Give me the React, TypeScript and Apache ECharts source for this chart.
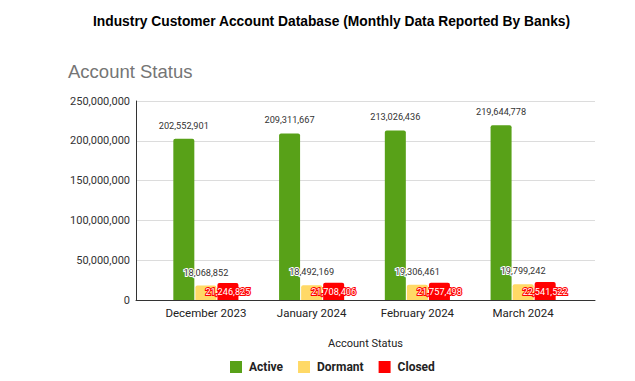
import React, { useEffect, useRef } from "react";
import * as echarts from "echarts";

const categories = ["December 2023", "January 2024", "February 2024", "March 2024"];
const activeValues = [202552901, 209311667, 213026436, 219644778];
const dormantValues = [18068852, 18492169, 19306461, 19799242];
const closedValues = [21246825, 21708406, 21757498, 22541522];
const yTicks = { min: 0, max: 250000000, interval: 50000000 };

const fmt = (v: number) => Number(v).toLocaleString("en-US");

export default function App() {
  const ref = useRef<HTMLDivElement>(null);
  useEffect(() => {
    if (!ref.current) return;
    const chart = echarts.init(ref.current, null, { renderer: "svg" });
    const font = "Roboto, Arial, sans-serif";
    const arial = "'Liberation Sans', Arial, sans-serif";
    chart.setOption({
      animation: false,
      backgroundColor: "#ffffff",
      textStyle: { fontFamily: font },
      title: [
        {
          text: "Industry Customer Account Database (Monthly Data Reported By Banks)",
          left: 88,
          top: 9,
          textStyle: { fontFamily: arial, fontSize: 13.8, fontWeight: "bold", color: "#000" },
        },
        {
          text: "Account Status",
          left: 63,
          top: 57,
          textStyle: { fontFamily: arial, fontSize: 18.5, fontWeight: "normal", color: "#757575" },
        },
      ],
      legend: {
        left: 225,
        top: 356,
        icon: "rect",
        itemWidth: 12,
        itemHeight: 12,
        itemGap: 15,
        textStyle: { fontFamily: font, fontSize: 12, fontWeight: "bold", color: "#222", padding: [0, 0, 0, 2] },
        data: ["Active", "Dormant", "Closed"],
      },
      grid: [
        { left: 136, right: 40, top: 101, bottom: 81 },
        { left: 153, right: 59, top: 101, bottom: 81 },
      ],
      xAxis: [
        {
          gridIndex: 0,
          type: "category",
          data: [""],
          axisLine: { show: true, lineStyle: { color: "#333", width: 1 } },
          axisTick: { show: false },
          axisLabel: { show: false },
          name: "Account Status",
          nameLocation: "middle",
          nameGap: 38,
          nameTextStyle: { fontFamily: font, fontSize: 11, color: "#222" },
        },
        {
          gridIndex: 1,
          type: "category",
          data: categories,
          axisLine: { show: false },
          axisTick: { show: false },
          axisLabel: { fontFamily: font, fontSize: 11.5, color: "#222", margin: 7 },
        },
      ],
      yAxis: [
        {
          gridIndex: 0,
          type: "value",
          min: yTicks.min,
          max: yTicks.max,
          interval: yTicks.interval,
          axisLine: { show: true, lineStyle: { color: "#333", width: 1 } },
          axisTick: { show: false },
          axisLabel: { fontFamily: font, fontSize: 11, color: "#333", margin: 6, formatter: (v: number) => fmt(v) },
          splitLine: { show: true, lineStyle: { color: "#dcdcdc" } },
        },
        {
          gridIndex: 1,
          type: "value",
          min: yTicks.min,
          max: yTicks.max,
          interval: yTicks.interval,
          show: false,
          splitLine: { show: false },
        },
      ],
      series: [
        {
          name: "Active",
          type: "bar",
          xAxisIndex: 1,
          yAxisIndex: 1,
          data: activeValues,
          barWidth: 21,
          barGap: "5%",
          itemStyle: { color: "#58a118", borderRadius: [2, 2, 0, 0] },
          label: {
            show: true,
            position: "top",
            distance: 9,
            fontFamily: font,
            fontSize: 9.2,
            color: "#333",
            formatter: (p: any) => fmt(p.value),
          },
        },
        {
          name: "Dormant",
          type: "bar",
          xAxisIndex: 1,
          yAxisIndex: 1,
          data: dormantValues,
          barWidth: 21,
          barGap: "5%",
          itemStyle: { color: "#ffd966", borderRadius: [2, 2, 0, 0] },
          label: {
            show: true,
            position: "top",
            distance: 9,
            fontFamily: font,
            fontSize: 9.2,
            color: "#333",
            textBorderColor: "#fff",
            textBorderWidth: 2,
            formatter: (p: any) => fmt(p.value),
          },
        },
        {
          name: "Closed",
          type: "bar",
          xAxisIndex: 1,
          yAxisIndex: 1,
          data: closedValues,
          barWidth: 21,
          barGap: "5%",
          itemStyle: { color: "#ff0000", borderRadius: [2, 2, 0, 0] },
          label: {
            show: true,
            position: "inside",
            fontFamily: font,
            fontSize: 9.2,
            color: "#fff",
            textBorderColor: "#ff0000",
            textBorderWidth: 2,
            formatter: (p: any) => fmt(p.value),
          },
        },
      ],
    });
    return () => chart.dispose();
  }, []);
  return <div ref={ref} style={{ width: 635, height: 381, position: "fixed", left: 0, top: 0 }} />;
}
